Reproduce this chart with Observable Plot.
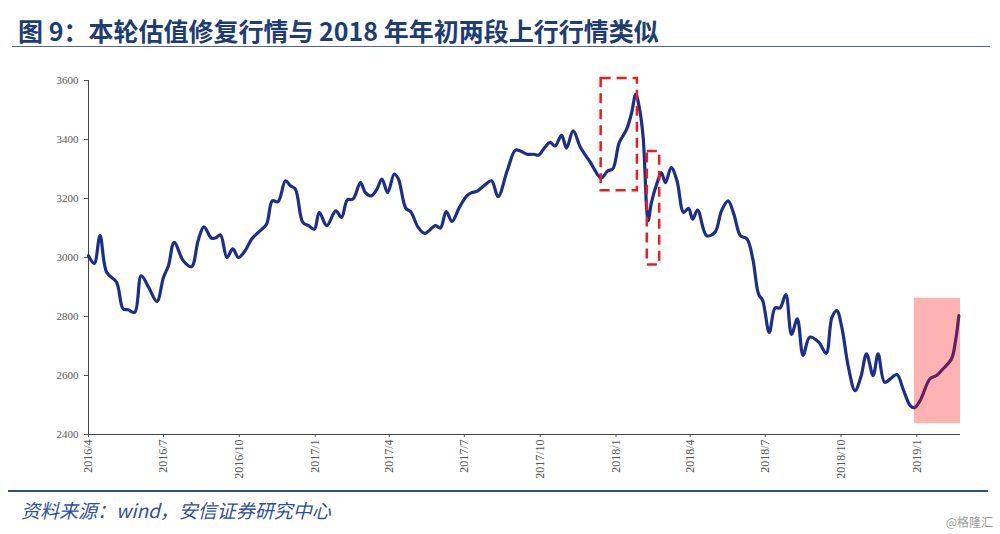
<!DOCTYPE html>
<html>
<head>
<meta charset="utf-8">
<script src="https://cdn.jsdelivr.net/npm/d3@7"></script>
<script src="https://cdn.jsdelivr.net/npm/@observablehq/plot@0.6"></script>
<style>
  body { margin: 0; background: #fff; }
  #fig { position: relative; width: 1000px; height: 534px; overflow: hidden; background: #fff; }
  #title { position: absolute; left: 18px; top: 12px; font: bold 25px "Noto Sans CJK SC", sans-serif; color: #203C74; white-space: nowrap; }
  #titleRule { position: absolute; left: 12px; top: 46px; width: 978px; height: 0; border-top: 1.5px solid #4A66A6; }
  #chart { position: absolute; left: 0; top: 50px; }
  #bottomRule { position: absolute; left: 8px; top: 490px; width: 980px; height: 0; border-top: 2.5px solid #2F4E8C; }
  #source { position: absolute; left: 21px; top: 496px; font: italic 19px "Noto Sans CJK SC", sans-serif; color: #2E4FA0; white-space: nowrap; }
  #mark { position: absolute; right: 7px; top: 513px; font: 12px "Noto Sans CJK SC", sans-serif; color: #9a9a9a; white-space: nowrap; }
  #chart svg text { font-family: "Liberation Serif", serif; }
</style>
</head>
<body>
<div id="fig">
  <div id="title"></div>
  <div id="titleRule"></div>
  <div id="chart"></div>
  <div id="bottomRule"></div>
  <div id="source"></div>
  <div id="mark"></div>
</div>
<script>
const titleText = "图 9：本轮估值修复行情与 2018 年年初两段上行行情类似";
const sourceText = "资料来源：wind，安信证券研究中心";
const watermark = "@格隆汇";

const dates = [
  "2016-04-01","2016-04-08","2016-04-15","2016-04-23","2016-05-05","2016-05-13","2016-05-19","2016-05-27",
  "2016-06-04","2016-06-13","2016-06-23","2016-07-01","2016-07-07","2016-07-14","2016-07-25","2016-08-04",
  "2016-08-12","2016-08-19","2016-08-28","2016-09-02","2016-09-08","2016-09-16","2016-09-23","2016-09-30",
  "2016-10-08","2016-10-16","2016-10-24","2016-11-03","2016-11-10","2016-11-17","2016-11-26","2016-12-02",
  "2016-12-08","2016-12-17","2016-12-24","2016-12-31",
  "2017-01-06","2017-01-15","2017-01-26","2017-02-02","2017-02-09","2017-02-16","2017-02-25","2017-03-03",
  "2017-03-10","2017-03-17","2017-03-23","2017-03-30","2017-04-07","2017-04-12","2017-04-21","2017-04-27",
  "2017-05-06","2017-05-14","2017-05-27","2017-06-02","2017-06-09","2017-06-16","2017-06-25","2017-07-04",
  "2017-07-10","2017-07-16","2017-07-26","2017-08-03","2017-08-11","2017-08-22","2017-09-01","2017-09-07",
  "2017-09-15","2017-09-23","2017-09-29","2017-10-05","2017-10-13","2017-10-19","2017-10-27","2017-11-02",
  "2017-11-10","2017-11-19","2017-12-01","2017-12-14","2017-12-22","2017-12-28",
  "2018-01-05","2018-01-14","2018-01-20","2018-01-25","2018-01-30","2018-02-03","2018-02-09","2018-02-13",
  "2018-02-20","2018-02-25","2018-03-02","2018-03-09","2018-03-16","2018-03-24","2018-03-30","2018-04-04",
  "2018-04-10","2018-04-21","2018-05-01","2018-05-09","2018-05-17","2018-05-24","2018-06-01","2018-06-09",
  "2018-06-16","2018-06-23","2018-06-28","2018-07-06","2018-07-13","2018-07-19","2018-07-26","2018-08-02",
  "2018-08-09","2018-08-16","2018-08-24","2018-09-04","2018-09-13","2018-09-20","2018-09-26","2018-10-02",
  "2018-10-10","2018-10-18","2018-10-25","2018-11-01","2018-11-09","2018-11-15","2018-11-23","2018-12-02",
  "2018-12-08","2018-12-16","2018-12-24","2018-12-29",
  "2019-01-05","2019-01-17","2019-01-25","2019-02-02","2019-02-12","2019-02-17","2019-02-21"
];
const values = [
  3006,2980,3074,2950,2916,2826,2823,2814,
  2938,2899,2851,2933,2972,3051,2989,2969,
  3057,3104,3066,3066,3077,3000,3029,3000,
  3023,3063,3085,3113,3192,3189,3260,3243,
  3232,3119,3108,3096,
  3153,3108,3158,3136,3195,3198,3254,3220,
  3209,3232,3266,3220,3283,3266,3167,3155,
  3102,3082,3108,3100,3156,3122,3170,3209,
  3220,3224,3246,3260,3206,3294,3364,3361,
  3350,3350,3347,3367,3390,3378,3414,3371,
  3429,3373,3322,3269,3294,3300,
  3390,3435,3491,3553,3497,3406,3125,3186,
  3254,3288,3254,3305,3260,3153,3167,3130,
  3161,3074,3085,3158,3192,3147,3074,3063,
  2995,2876,2854,2746,2829,2829,2874,2739,
  2792,2668,2730,2713,2675,2797,2820,2763,
  2628,2549,2594,2673,2600,2673,2577,2594,
  2603,2549,2498,2491,
  2515,2589,2600,2623,2656,2718,2803
];

const xDomain = ["2016-04-01", "2019-02-23"];
const yDomain = [2400, 3600];
const xTicks = ["2016-04-01","2016-07-01","2016-10-01","2017-01-01","2017-04-01","2017-07-01",
                "2017-10-01","2018-01-01","2018-04-01","2018-07-01","2018-10-01","2019-01-01"];
const yTicks = [2400, 2600, 2800, 3000, 3200, 3400, 3600];

// dashed annotation boxes (2018 early-year moves)
const boxStart = ["2017-12-14", "2018-02-08"];
const boxEnd   = ["2018-01-27", "2018-02-23"];
const boxLow   = [3226, 2975];
const boxHigh  = [3607, 3359];

// shaded current rally
const shadeStart = ["2018-12-29"];
const shadeEnd   = ["2019-02-23"];
const shadeLow   = [2437];
const shadeHigh  = [2862];

const parse = d3.utcParse("%Y-%m-%d");
const series = dates.map((d, i) => ({date: parse(d), value: values[i]}));
const boxes = boxStart.map((d, i) => ({x1: parse(d), x2: parse(boxEnd[i]), y1: boxLow[i], y2: boxHigh[i]}));
const shade = shadeStart.map((d, i) => ({x1: parse(d), x2: parse(shadeEnd[i]), y1: shadeLow[i], y2: shadeHigh[i]}));

document.getElementById("title").textContent = titleText;
document.getElementById("source").textContent = sourceText;
document.getElementById("mark").textContent = watermark;

const serif = "Liberation Serif";
const chart = Plot.plot({
  width: 1000,
  height: 440,
  marginLeft: 88,
  marginRight: 40,
  marginTop: 30,
  marginBottom: 56,
  style: {fontFamily: serif, fontSize: "11px", color: "#555", background: "transparent"},
  x: {type: "utc", domain: xDomain.map(parse)},
  y: {domain: yDomain},
  marks: [
    Plot.axisY({ticks: yTicks, tickFormat: d => String(d), tickSize: 4, tickPadding: 6, label: null, fontSize: 11, fontFamily: serif}),
    Plot.axisX({
      ticks: xTicks.map(parse),
      tickFormat: d => `${d.getUTCFullYear()}/${d.getUTCMonth() + 1}`,
      tickRotate: -90, tickSize: 3, tickPadding: 2, label: null, fontSize: 12, fontFamily: serif
    }),
    Plot.ruleX([parse(xDomain[0])], {stroke: "#444"}),
    Plot.ruleY([yDomain[0]], {stroke: "#444"}),
    Plot.line(series, {x: "date", y: "value", curve: "catmull-rom", stroke: "#1C2E8C", strokeWidth: 3.2}),
    Plot.rect(boxes, {x1: "x1", x2: "x2", y1: "y1", y2: "y2", fill: "none", stroke: "#EE1C1C", strokeWidth: 2.5, strokeDasharray: "10,6"}),
    Plot.rect(shade, {x1: "x1", x2: "x2", y1: "y1", y2: "y2", fill: "#ff0000", fillOpacity: 0.3})
  ]
});
document.getElementById("chart").appendChild(chart);
</script>
</body>
</html>
